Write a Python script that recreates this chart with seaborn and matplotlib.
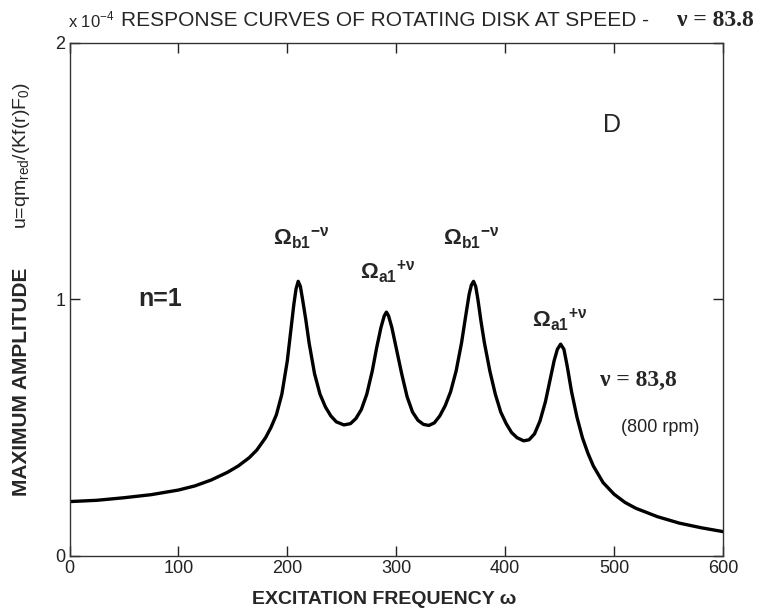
import matplotlib
matplotlib.use("Agg")
import matplotlib.pyplot as plt
import seaborn as sns
import pandas as pd

# values, amplitude in units of 1e-4
freq = [0, 25, 50, 75, 100, 115, 130, 145, 155, 165, 172, 180, 185, 190, 195,
        200, 203, 206, 208, 210, 212, 214, 217, 220, 225, 230, 235, 240, 245,
        252, 258, 263, 268, 273, 278, 282, 286, 289, 291, 293, 296, 300, 305,
        310, 315, 320, 325, 330, 335, 340, 345, 350, 355, 360, 364, 367, 369,
        371, 373, 375, 378, 381, 386, 391, 396, 401, 406, 411, 417, 422, 427,
        432, 437, 441, 445, 448, 451, 454, 457, 461, 466, 471, 476, 481, 490,
        500, 510, 520, 540, 560, 580, 600]
amp_e4 = [0.211, 0.216, 0.226, 0.238, 0.256, 0.272, 0.295, 0.325, 0.350, 0.382,
          0.412, 0.460, 0.500, 0.550, 0.630, 0.760, 0.870, 0.980, 1.040, 1.070,
          1.050, 1.000, 0.920, 0.830, 0.710, 0.630, 0.580, 0.545, 0.522, 0.510,
          0.515, 0.535, 0.570, 0.630, 0.720, 0.810, 0.890, 0.935, 0.950, 0.935,
          0.890, 0.810, 0.710, 0.620, 0.560, 0.528, 0.512, 0.508, 0.518, 0.545,
          0.585, 0.640, 0.720, 0.830, 0.940, 1.020, 1.055, 1.070, 1.050, 1.000,
          0.910, 0.830, 0.720, 0.630, 0.560, 0.515, 0.480, 0.460, 0.448, 0.452,
          0.475, 0.525, 0.600, 0.680, 0.760, 0.805, 0.825, 0.805, 0.740, 0.640,
          0.540, 0.460, 0.400, 0.350, 0.285, 0.240, 0.208, 0.185, 0.152, 0.127,
          0.109, 0.094]

x_ticks = [0, 100, 200, 300, 400, 500, 600]
y_ticks = [0, 1, 2]

df = pd.DataFrame({"freq": freq, "amp": amp_e4})

sns.set_style("ticks")
plt.rcParams["font.family"] = ["Liberation Sans Narrow", "Liberation Sans", "DejaVu Sans"]
plt.rcParams["mathtext.fontset"] = "custom"
plt.rcParams["mathtext.rm"] = "Liberation Sans"
plt.rcParams["mathtext.bf"] = "Liberation Sans:bold"

fig = plt.figure(figsize=(7.58, 6.12), dpi=100)
ax = fig.add_axes([0.0917, 0.092, 0.862, 0.838])

sns.lineplot(data=df, x="freq", y="amp", color="black", linewidth=2.4, ax=ax)

ax.set_xlim(0, 600)
ax.set_ylim(0, 2)
ax.set_xticks(x_ticks)
ax.set_yticks(y_ticks)
ax.set_xticklabels([str(t) for t in x_ticks])
ax.set_yticklabels([str(t) for t in y_ticks])
ax.tick_params(direction="in", top=True, right=True, length=7, width=1,
               labelsize=13, pad=3, colors="#222222")
for s in ax.spines.values():
    s.set_linewidth(1.0)
    s.set_color("#333333")
ax.set_xlabel("")
ax.set_ylabel("")

# titles and labels
fig.text(121 / 758, 1 - 20 / 612, "RESPONSE CURVES OF ROTATING DISK AT SPEED -",
         fontsize=15, ha="left", va="center")
fig.text(754 / 758, 1 - 20 / 612, "ν = 83.8", fontsize=17, fontweight="bold",
         family=["Liberation Serif", "DejaVu Serif"], ha="right", va="center")
fig.text(68 / 758, 1 - 20 / 612, r"x 10$^{-4}$", fontsize=12, ha="left", va="center")

fig.text(384 / 758, 1 - 599 / 612, "EXCITATION FREQUENCY ω", fontsize=14,
         fontweight="bold", ha="center", va="center")
fig.text(22 / 758, 1 - 382 / 612, "MAXIMUM AMPLITUDE", fontsize=15,
         fontweight="bold", rotation=90, ha="center", va="center")
fig.text(22 / 758, 1 - 155 / 612, r"u=qm$_{\mathrm{red}}$/(Kf(r)F$_0$)", fontsize=14,
         rotation=90, ha="center", va="center")

# annotations in data coordinates
omega_b = r"$\mathbf{\Omega_{b1}{}^{-\nu}}$"
omega_a = r"$\mathbf{\Omega_{a1}{}^{+\nu}}$"
ax.text(498, 1.68, "D", fontsize=18, family=["Liberation Sans", "DejaVu Sans"],
        ha="center", va="center")
ax.text(83, 1.0, "n=1", fontsize=18, fontweight="bold",
        family=["Liberation Sans", "DejaVu Sans"], ha="center", va="center")
ax.text(213, 1.24, omega_b, fontsize=16, ha="center", va="center")
ax.text(292, 1.11, omega_a, fontsize=16, ha="center", va="center")
ax.text(369, 1.24, omega_b, fontsize=16, ha="center", va="center")
ax.text(450, 0.92, omega_a, fontsize=16, ha="center", va="center")
ax.text(522, 0.685, "ν = 83,8", fontsize=17, fontweight="bold",
        family=["Liberation Serif", "DejaVu Serif"], ha="center", va="center")
ax.text(542, 0.5, "(800 rpm)", fontsize=13, family=["Liberation Sans", "DejaVu Sans"],
        ha="center", va="center", color="#222222")

fig.savefig("out.png", dpi=100)
